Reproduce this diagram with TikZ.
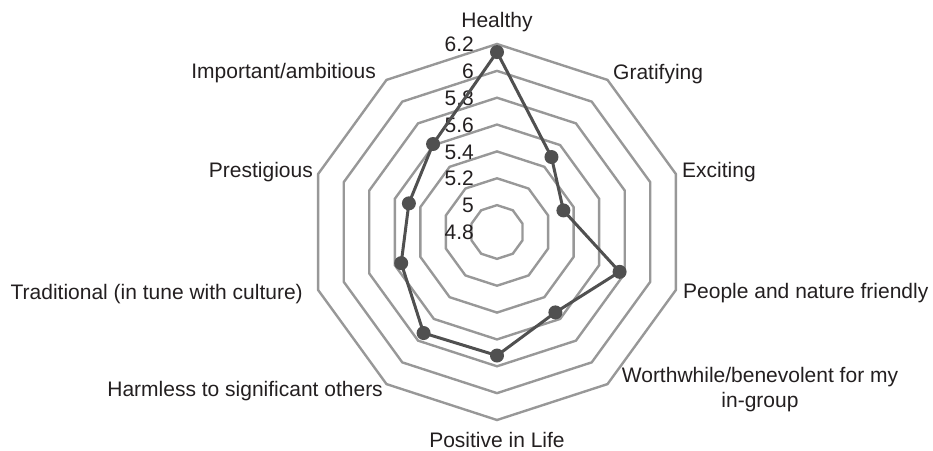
\documentclass[tikz,border=0pt]{standalone}
\usepackage{fontspec}
\setmainfont{Liberation Sans}
\definecolor{rejilla}{RGB}{152,152,152}
\definecolor{serie}{RGB}{80,80,80}
\definecolor{texto}{RGB}{35,31,32}
\tikzset{
  anillo/.style={draw=rejilla, line width=2.4pt, line join=miter},
  linea/.style={draw=serie, line width=3pt, line join=round},
  punto/.style={circle, fill=serie, minimum size=14pt, inner sep=0pt},
  etiqueta/.style={text=texto, font=\fontsize{21}{25}\selectfont, inner sep=0pt},
}
\begin{document}
\begin{tikzpicture}[x=1pt, y=1pt]

    \def\d{26.857} % Separación entre anillos
    \useasboundingbox (-497,-218) rectangle (436,232);

    % Dibujar los anillos
    \foreach \k in {1,...,7}
      \draw[anillo] (90:\k*\d) \foreach \a in {126,162,...,414} { -- (\a:\k*\d) } -- cycle;

    % Valores del eje
    \foreach \k/\v in {0/4.8,1/5,2/5.2,3/5.4,4/5.6,5/5.8,6/6,7/6.2}
      \node[etiqueta, anchor=base east] (eje\k) at (-23, \k*\d-7.7) {\v};

    % Dibujar la serie
    \foreach \i/\a/\v in {1/90/6.14, 2/54/5.49, 3/18/5.32, 4/-18/5.76, 5/-54/5.54,
                          6/-90/5.72, 7/-126/5.73, 8/-162/5.55, 9/162/5.49, 10/126/5.61}
      \coordinate (p\i) at (\a:{(\v-4.8)*\d/0.2});
    \draw[linea] (p1) -- (p2) -- (p3) -- (p4) -- (p5) -- (p6) -- (p7) -- (p8) -- (p9) -- (p10) -- cycle;
    \foreach \i in {1,...,10}
      \node[punto] (m\i) at (p\i) {};

    % Añadir etiquetas de las categorías
    \node[etiqueta, anchor=base] (healthy) at (0,204) {Healthy};
    \node[etiqueta, anchor=base west] (gratifying) at (116,152) {Gratifying};
    \node[etiqueta, anchor=base west] (exciting) at (185,55) {Exciting};
    \node[etiqueta, anchor=base west] (friendly) at (186,-66) {People and nature friendly};
    \node[etiqueta, anchor=north, align=center] (worthwhile) at (263,-135) {Worthwhile/benevolent for my\\in-group};
    \node[etiqueta, anchor=base] (positive) at (0,-215) {Positive in Life};
    \node[etiqueta, anchor=base east] (harmless) at (-114,-164) {Harmless to significant others};
    \node[etiqueta, anchor=base east] (traditional) at (-194,-67) {Traditional (in tune with culture)};
    \node[etiqueta, anchor=base east] (prestigious) at (-184,55) {Prestigious};
    \node[etiqueta, anchor=base east] (important) at (-121,153) {Important/ambitious};

\end{tikzpicture}
\end{document}
